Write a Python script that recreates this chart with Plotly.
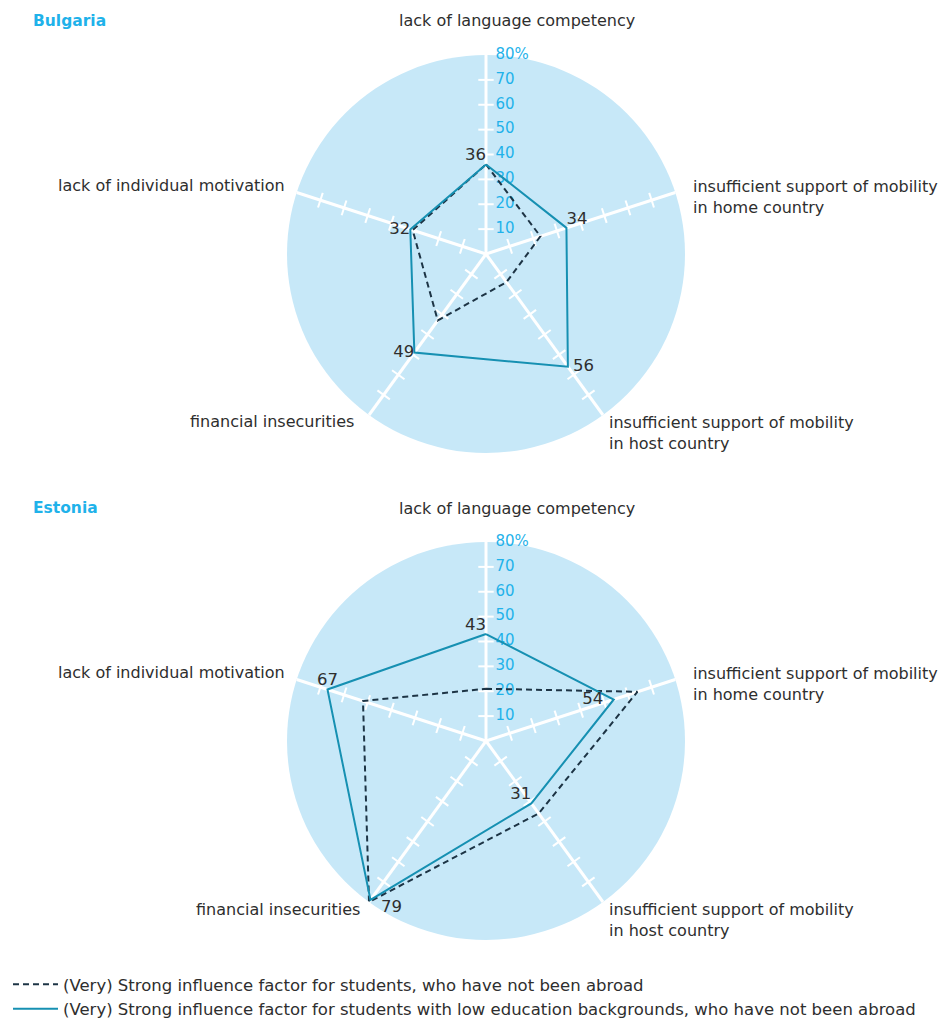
import plotly.graph_objects as go

# categories, clockwise from the top
categories = ["lack of language competency",
              "insufficient support of mobility in home country",
              "insufficient support of mobility in host country",
              "financial insecurities",
              "lack of individual motivation"]

bg_not_abroad = [36, 23, 14, 33, 31]
bg_low_edu = [36, 34, 56, 49, 32]
ee_not_abroad = [21, 64, 36, 80, 52]
ee_low_edu = [43, 54, 31, 79, 67]

radial_ticks = [10, 20, 30, 40, 50, 60, 70, 80]
radial_labels = ["10", "20", "30", "40", "50", "60", "70", "80%"]

series_names = ["(Very) Strong influence factor for students, who have not been abroad",
                "(Very) Strong influence factor for students with low education backgrounds, who have not been abroad"]

# page body has an 8px margin, so the figure is a bit smaller than the window
OFF = 8
W, H = 948 - OFF, 1026 - OFF
DARK = "#1d3445"
TEAL = "#1690b2"
SKY = "#c7e8f8"
BLUE = "#1fb2ea"
TXT = "#2e2e2e"
FONT = "DejaVu Sans"
FS = 16

def px_x(v):
    return (v - OFF) / W

def px_y(v):
    return 1 - (v - OFF) / H

fig = go.Figure()

panels = [
    ("polar", "Bulgaria", bg_not_abroad, bg_low_edu, 254,
     ["top left", "top right", "middle right", "middle left", "middle left"],
     ["", "", " ", "", ""]),
    ("polar2", "Estonia", ee_not_abroad, ee_low_edu, 741,
     ["top left", "middle left", "top left", "bottom right", "top center"],
     ["", "", "", "  ", ""]),
]

for k, (sub, title, dashed, solid, cy, pos, pad) in enumerate(panels):
    # tick marks on each spoke
    tr, tt, ta = [], [], []
    for i, c in enumerate(categories):
        ang = 90 - 72 * i
        for r in radial_ticks[:-1]:
            tr.append(r)
            tt.append(c)
            ta.append(-ang)
    fig.add_trace(go.Scatterpolar(r=tr, theta=tt, mode="markers", subplot=sub,
                                  marker=dict(symbol="line-ns", size=11, angle=ta,
                                              line=dict(color="white", width=2)),
                                  showlegend=False, hoverinfo="skip"))
    # radial tick labels
    fig.add_trace(go.Scatterpolar(r=radial_ticks, theta=[categories[0]] * len(radial_ticks),
                                  mode="text", text=["  " + s for s in radial_labels],
                                  textposition="middle right", subplot=sub,
                                  textfont=dict(color=BLUE, size=15, family=FONT),
                                  showlegend=False, hoverinfo="skip"))
    fig.add_trace(go.Scatterpolar(r=dashed + dashed[:1], theta=categories + categories[:1],
                                  mode="lines", subplot=sub, name=series_names[0],
                                  line=dict(color=DARK, width=2, dash="6px,4px"),
                                  showlegend=(k == 0)))
    fig.add_trace(go.Scatterpolar(r=solid + solid[:1], theta=categories + categories[:1],
                                  mode="lines", subplot=sub, name=series_names[1],
                                  line=dict(color=TEAL, width=2),
                                  showlegend=(k == 0)))
    labels_txt = []
    for v, p, pp in zip(solid, pos, pad):
        s = str(v)
        labels_txt.append(pp + s if "right" in p else (s + "  " if k == 1 and v == 54 else s))
    fig.add_trace(go.Scatterpolar(r=solid, theta=categories, mode="text",
                                  text=labels_txt, textposition=pos,
                                  subplot=sub, textfont=dict(color=TXT, size=16.5, family=FONT),
                                  showlegend=False, hoverinfo="skip"))

    rad = 199
    polar_cfg = dict(
        domain=dict(x=[px_x(486 - rad), px_x(486 + rad)], y=[px_y(cy + rad), px_y(cy - rad)]),
        bgcolor=SKY,
        radialaxis=dict(range=[0, 80], showline=False, showgrid=False,
                        showticklabels=False, ticks=""),
        angularaxis=dict(direction="clockwise", rotation=90, showline=False,
                         showticklabels=False, ticks="", gridcolor="white", gridwidth=3,
                         categoryorder="array", categoryarray=categories),
    )
    fig.update_layout(**{sub: polar_cfg})

    off = cy - 254
    fig.add_annotation(x=px_x(31), y=px_y(21 + off), text="<b>%s</b>" % title,
                       xanchor="left", yanchor="middle", showarrow=False,
                       font=dict(color=BLUE, size=15.5, family=FONT))
    labels = [
        (517, 21, "center", "lack of language competency"),
        (691, 197, "left", "insufficient support of mobility<br>in home country"),
        (607, 433, "left", "insufficient support of mobility<br>in host country"),
        (356 if k == 0 else 362, 422, "right", "financial insecurities"),
        (287, 185, "right", "lack of individual motivation"),
    ]
    for x, y, anc, txt in labels:
        fig.add_annotation(x=px_x(x), y=px_y(y + off), text=txt, xanchor=anc, yanchor="middle",
                           align="left", showarrow=False,
                           font=dict(color=TXT, size=FS, family=FONT))

fig.update_layout(
    width=W, height=H,
    paper_bgcolor="white",
    margin=dict(l=0, r=0, t=0, b=0),
    font=dict(family=FONT, color=TXT, size=FS),
    legend=dict(x=0, y=0, xanchor="left", yanchor="bottom",
                font=dict(size=16.5, color=TXT, family=FONT),
                tracegroupgap=0, itemwidth=45),
)

fig.write_html("out.html")
